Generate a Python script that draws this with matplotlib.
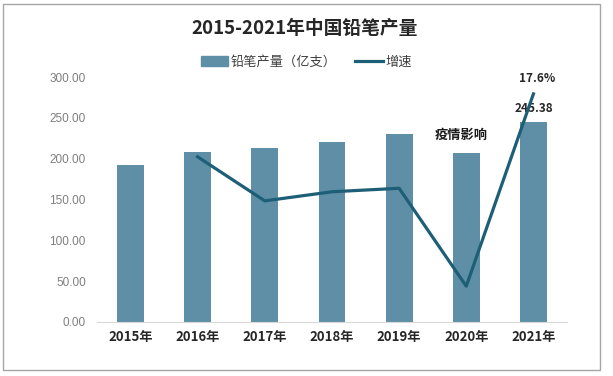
import matplotlib.pyplot as plt
from matplotlib.patches import Rectangle

plt.rcParams['font.family'] = ['Noto Sans CJK SC', 'DejaVu Sans']

# Data
years = ['2015年', '2016年', '2017年', '2018年', '2019年', '2020年', '2021年']
output = [192.0, 208.5, 213.5, 220.0, 230.0, 207.5, 245.38]   # 亿支
growth_years = ['2016年', '2017年', '2018年', '2019年', '2020年', '2021年']
growth = [8.6, 2.3, 3.6, 4.1, -9.9, 17.6]   # %

bar_color = '#5f8fa6'
line_color = '#1d5f77'

fig = plt.figure(figsize=(6.13, 3.76), dpi=100)
fig.patches.append(Rectangle((0.005, 0.016), 0.973, 0.973, transform=fig.transFigure,
                             fill=False, edgecolor='#a6a6a6', linewidth=1.0))

ax = fig.add_axes([0.158, 0.144, 0.767, 0.651])
x = list(range(len(years)))
ax.bar(x, output, width=0.4, color=bar_color, zorder=2)
ax.set_xlim(-0.5, len(years) - 0.5)
ax.set_ylim(0, 300)
ax.set_yticks([0, 50, 100, 150, 200, 250, 300])
ax.set_yticklabels([f'{v:.2f}' for v in [0, 50, 100, 150, 200, 250, 300]],
                   color='#7f7f7f', fontsize=8.5, family=['Liberation Sans'])
ax.set_xticks(x)
ax.set_xticklabels(years, fontsize=9.5, fontweight='bold', color='#262626')
ax.tick_params(axis='both', length=0)
ax.tick_params(axis='y', pad=8)
ax.tick_params(axis='x', pad=6)
for s in ['top', 'right', 'left']:
    ax.spines[s].set_visible(False)
ax.spines['bottom'].set_color('#d9d9d9')

ax2 = ax.twinx()
gx = [years.index(y) for y in growth_years]
ax2.plot(gx, growth, color=line_color, linewidth=2.3, zorder=3)
ax2.set_ylim(-15, 20)
ax2.set_yticks([])
for s in ax2.spines.values():
    s.set_visible(False)

ax.text(6, 262, '245.38', ha='center', va='center', fontsize=8.5,
        fontweight='bold', color='#262626', zorder=5)
ax.text(6.05, 298, '17.6%', ha='center', va='center', fontsize=8.5,
        fontweight='bold', color='#262626', clip_on=False)
ax.text(4.92, 229, '疫情影响', ha='center', va='center', fontsize=9.5,
        fontweight='bold', color='#1a1a1a')

fig.text(0.497, 0.925, '2015-2021年中国铅笔产量', ha='center', va='center',
         fontsize=13.5, fontweight='bold', color='#262626')

handles = [Rectangle((0, 0), 1, 1, color=bar_color),
           plt.Line2D([0], [0], color=line_color, linewidth=2.3)]
fig.legend(handles, ['铅笔产量（亿支）', '增速'], loc='center', bbox_to_anchor=(0.5, 0.835),
           ncol=2, frameon=False, fontsize=9.5, handlelength=2.1, handleheight=0.7,
           columnspacing=1.4, handletextpad=0.2, labelcolor='#404040')

fig.savefig('out.png', dpi=100)
